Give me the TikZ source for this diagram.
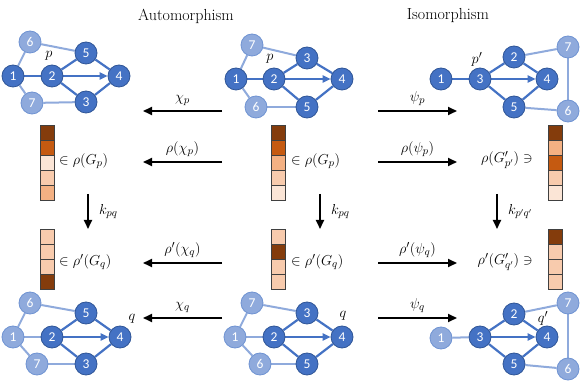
\documentclass[tikz,border=0pt]{standalone}
\usepackage{fontspec}
\newfontfamily\numfont{Carlito}
\usetikzlibrary{arrows.meta,backgrounds}
\definecolor{dkb}{HTML}{4472C4}
\definecolor{dkbd}{HTML}{2F5597}
\definecolor{ltb}{HTML}{8FAADC}
\definecolor{ltbd}{HTML}{6F93D2}
\definecolor{cA}{HTML}{843C0C}
\definecolor{cB}{HTML}{C55A11}
\definecolor{cC}{HTML}{F4B183}
\definecolor{cD}{HTML}{F8CBAD}
\definecolor{cE}{HTML}{FBE5D6}
\newcommand\colbar[3]{%
  \foreach \c [count=\i from 0] in {#3} {\draw[cellst, fill=\c] (#1,#2+15*\i) rectangle ++(14,15);}}
\begin{document}
\begin{tikzpicture}[x=1pt,y=-1pt,
  dn/.style={circle, fill=dkb, draw=dkbd, line width=0.8pt, minimum size=22pt, inner sep=0pt, text=white, font=\numfont\fontsize{13.5}{13.5}\selectfont},
  ln/.style={dn, fill=ltb, draw=ltbd},
  de/.style={draw=dkb, line width=2.2pt},
  le/.style={draw=ltb, line width=2pt},
  da/.style={de, -{Triangle[length=8pt,width=7pt]}},
  bigarr/.style={line width=2pt, -{Triangle[length=9pt,width=8pt]}},
  cellst/.style={draw=black!75, line width=0.8pt},
  lab/.style={font=\fontsize{15}{17}\selectfont, inner sep=1pt},
  ttl/.style={font=\fontsize{16}{18}\selectfont}]
\useasboundingbox (0,0) rectangle (581,387);
\begin{scope}[on background layer]
\fill[white] (0,0) rectangle (581,387);
\end{scope}

\node[ttl] (t1) at (186,16) {Automorphism};
\node[ttl] (t2) at (448,16) {Isomorphism};

% ---- top-left graph
\node[dn] (A1) at (13,76) {1};
\node[dn] (A2) at (52,76) {2};
\node[dn] (A3) at (86,102) {3};
\node[dn] (A4) at (119,76) {4};
\node[dn] (A5) at (86,53) {5};
\node[ln] (A6) at (30,42) {6};
\node[ln] (A7) at (32,103) {7};
\node[lab] (Ap) at (49,56) {$p$};
\begin{scope}[on background layer]
\draw[le] (A1)--(A6); \draw[le] (A1)--(A7); \draw[le] (A6)--(A5); \draw[le] (A7)--(A3);
\draw[de] (A1)--(A2); \draw[de] (A2)--(A5); \draw[de] (A2)--(A3); \draw[de] (A5)--(A4); \draw[de] (A3)--(A4);
\draw[da] (A2)--(A4);
\end{scope}

% ---- top-middle graph
\node[dn] (B1) at (236,79) {1};
\node[dn] (B2) at (274,79) {2};
\node[dn] (B3) at (307,58) {3};
\node[dn] (B4) at (342,79) {4};
\node[dn] (B5) at (307,107) {5};
\node[ln] (B6) at (256,107) {6};
\node[ln] (B7) at (252,45) {7};
\node[lab] (Bp) at (270,59) {$p$};
\begin{scope}[on background layer]
\draw[le] (B1)--(B7); \draw[le] (B1)--(B6); \draw[le] (B7)--(B3); \draw[le] (B6)--(B5);
\draw[de] (B1)--(B2); \draw[de] (B2)--(B3); \draw[de] (B2)--(B5); \draw[de] (B3)--(B4); \draw[de] (B5)--(B4);
\draw[da] (B2)--(B4);
\end{scope}

% ---- top-right graph
\node[dn] (C1) at (441,79) {1};
\node[dn] (C3) at (480,79) {3};
\node[dn] (C2) at (514,57) {2};
\node[dn] (C4) at (547,79) {4};
\node[dn] (C5) at (514,107) {5};
\node[ln] (C7) at (568,47) {7};
\node[ln] (C6) at (568,111) {6};
\node[lab] (Cp) at (477,59) {$p'$};
\begin{scope}[on background layer]
\draw[le] (C2)--(C7); \draw[le] (C5)--(C6); \draw[le] (C7)--(C6);
\draw[de] (C1)--(C3); \draw[de] (C3)--(C2); \draw[de] (C3)--(C5); \draw[de] (C2)--(C4); \draw[de] (C5)--(C4);
\draw[da] (C3)--(C4);
\end{scope}

% ---- bottom-left graph
\node[ln] (D1) at (13,337) {1};
\node[dn] (D2) at (52,337) {2};
\node[dn] (D3) at (86,364) {3};
\node[dn] (D4) at (120,337) {4};
\node[dn] (D5) at (86,313) {5};
\node[ln] (D6) at (30,303) {6};
\node[ln] (D7) at (37,364) {7};
\node[lab] (Dq) at (132,319) {$q$};
\begin{scope}[on background layer]
\draw[le] (D1)--(D6); \draw[le] (D1)--(D7); \draw[le] (D6)--(D5); \draw[le] (D7)--(D3); \draw[le] (D1)--(D2);
\draw[de] (D2)--(D5); \draw[de] (D2)--(D3); \draw[de] (D5)--(D4); \draw[de] (D3)--(D4);
\draw[da] (D2)--(D4);
\end{scope}

% ---- bottom-middle graph
\node[ln] (E1) at (235,337) {1};
\node[dn] (E2) at (274,337) {2};
\node[dn] (E3) at (307,313) {3};
\node[dn] (E4) at (342,337) {4};
\node[dn] (E5) at (307,364) {5};
\node[ln] (E6) at (260,364) {6};
\node[ln] (E7) at (252,303) {7};
\node[lab] (Eq) at (343,316) {$q$};
\begin{scope}[on background layer]
\draw[le] (E1)--(E7); \draw[le] (E1)--(E6); \draw[le] (E7)--(E3); \draw[le] (E6)--(E5); \draw[le] (E1)--(E2);
\draw[de] (E2)--(E3); \draw[de] (E2)--(E5); \draw[de] (E3)--(E4); \draw[de] (E5)--(E4);
\draw[da] (E2)--(E4);
\end{scope}

% ---- bottom-right graph
\node[ln] (F1) at (441,338) {1};
\node[dn] (F3) at (480,337) {3};
\node[dn] (F2) at (514,314) {2};
\node[dn] (F4) at (547,337) {4};
\node[dn] (F5) at (514,364) {5};
\node[ln] (F7) at (568,303) {7};
\node[ln] (F6) at (568,369) {6};
\node[lab] (Fq) at (543,318) {$q'$};
\begin{scope}[on background layer]
\draw[le] (F2)--(F7); \draw[le] (F5)--(F6); \draw[le] (F7)--(F6); \draw[le] (F1)--(F3);
\draw[de] (F3)--(F2); \draw[de] (F3)--(F5); \draw[de] (F2)--(F4); \draw[de] (F5)--(F4);
\draw[da] (F3)--(F4);
\end{scope}

% ---- color bars
\colbar{40}{125}{cA,cB,cE,cD,cC}
\colbar{271}{125}{cA,cB,cC,cD,cE}
\colbar{548}{125}{cA,cC,cB,cD,cE}
\colbar{40}{229}{cD,cD,cD,cA}
\colbar{271}{229}{cD,cA,cD,cD}
\colbar{548}{229}{cA,cD,cD,cD}

\node[lab, anchor=west] (s1) at (58,161) {$\in\rho(G_p)$};
\node[lab, anchor=west] (s2) at (290,161) {$\in\rho(G_p)$};
\node[lab, anchor=east] (s3) at (534,160) {$\rho(G'_{p'})\ni$};
\node[lab, anchor=west] (s4) at (58,262) {$\in\rho'(G_q)$};
\node[lab, anchor=west] (s5) at (290,262) {$\in\rho'(G_q)$};
\node[lab, anchor=east] (s6) at (534,262) {$\rho'(G'_{q'})\ni$};

% ---- horizontal arrows
\coordinate (l1a) at (222,111); \coordinate (l1b) at (143,111);
\coordinate (l2a) at (222,162); \coordinate (l2b) at (143,162);
\coordinate (l3a) at (222,263); \coordinate (l3b) at (143,263);
\coordinate (l4a) at (222,318); \coordinate (l4b) at (143,318);
\coordinate (r1a) at (378,111); \coordinate (r1b) at (457,111);
\coordinate (r2a) at (378,162); \coordinate (r2b) at (457,162);
\coordinate (r3a) at (378,263); \coordinate (r3b) at (457,263);
\coordinate (r4a) at (378,318); \coordinate (r4b) at (457,318);
\draw[bigarr] (l1a) -- node[lab, above=3pt] (x1) {$\chi_p$} (l1b);
\draw[bigarr] (l2a) -- node[lab, above=3pt] (x2) {$\rho(\chi_p)$} (l2b);
\draw[bigarr] (l3a) -- node[lab, above=3pt] (x3) {$\rho'(\chi_q)$} (l3b);
\draw[bigarr] (l4a) -- node[lab, above=3pt] (x4) {$\chi_q$} (l4b);
\draw[bigarr] (r1a) -- node[lab, above=3pt] (y1) {$\psi_p$} (r1b);
\draw[bigarr] (r2a) -- node[lab, above=3pt] (y2) {$\rho(\psi_p)$} (r2b);
\draw[bigarr] (r3a) -- node[lab, above=3pt] (y3) {$\rho'(\psi_q)$} (r3b);
\draw[bigarr] (r4a) -- node[lab, above=3pt] (y4) {$\psi_q$} (r4b);

% ---- vertical arrows
\coordinate (v1a) at (88,194); \coordinate (v1b) at (88,229);
\coordinate (v2a) at (320,194); \coordinate (v2b) at (320,229);
\coordinate (v3a) at (497,194); \coordinate (v3b) at (497,229);
\draw[bigarr] (v1a) -- node[lab, right=9pt] (k1) {$k_{pq}$} (v1b);
\draw[bigarr] (v2a) -- node[lab, right=9pt] (k2) {$k_{pq}$} (v2b);
\draw[bigarr] (v3a) -- node[lab, right=9pt] (k3) {$k_{p'q'}$} (v3b);
\end{tikzpicture}
\end{document}
